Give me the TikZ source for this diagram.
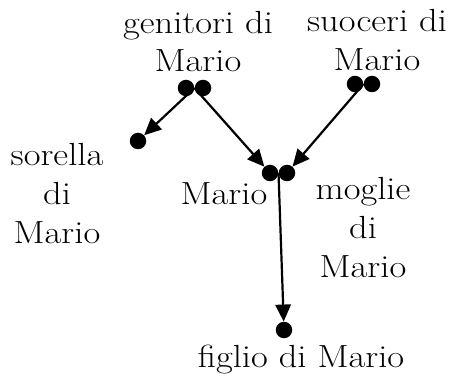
\documentclass[tikz,border=0pt]{standalone}
\usepackage{graphicx}
\usetikzlibrary{arrows.meta,calc}
% slightly widened roman letters
\newcommand{\wide}[1]{\scalebox{1.14}[1]{#1}}
\begin{document}
\begin{tikzpicture}[x=1pt,y=1pt,
  person/.style={circle,fill=black,inner sep=0pt,minimum size=16.5pt},
  label/.style={align=center,inner sep=0pt,anchor=base,font=\fontsize{32}{39}\selectfont},
  arr/.style={line width=2.2pt,-{Triangle[length=17pt,width=15.5pt]}}]
\useasboundingbox (0,0) rectangle (453,373);

% couples and single people
\node[person] (g1) at (186,285) {};
\node[person] (g2) at (203,285) {};
\node[person] (s1) at (355,289) {};
\node[person] (s2) at (372,289) {};
\node[person] (sis) at (138,232) {};
\node[person] (m) at (270,200) {};
\node[person] (w) at (287,200) {};
\node[person] (son) at (284,43) {};

% midpoints of the couples
\coordinate (gm) at ($(g1)!0.5!(g2)$);
\coordinate (sm) at ($(s1)!0.5!(s2)$);
\coordinate (mm) at ($(m)!0.5!(w)$);

% names (anchored at the baseline of the last line)
\node[label] (tg) at (198,301) {\wide{genitori di}\\\wide{Mario}};
\node[label] (ts) at (377,302) {\wide{suoceri di}\\\wide{Mario}};
\node[label] (tsis) at (57,130) {\wide{sorella}\\\wide{di}\\\wide{Mario}};
\node[label] (tm) at (224,169) {\wide{Mario}};
\node[label] (tw) at (363,96) {\wide{moglie}\\\wide{di}\\\wide{Mario}};
\node[label] (tson) at (301,6) {\wide{figlio di Mario}};

% descent
\draw[arr] (gm) -- (sis);
\draw[arr] (gm) -- (m);
\draw[arr] (sm) -- (w);
\draw[arr] (mm) -- (son);
\end{tikzpicture}
\end{document}
